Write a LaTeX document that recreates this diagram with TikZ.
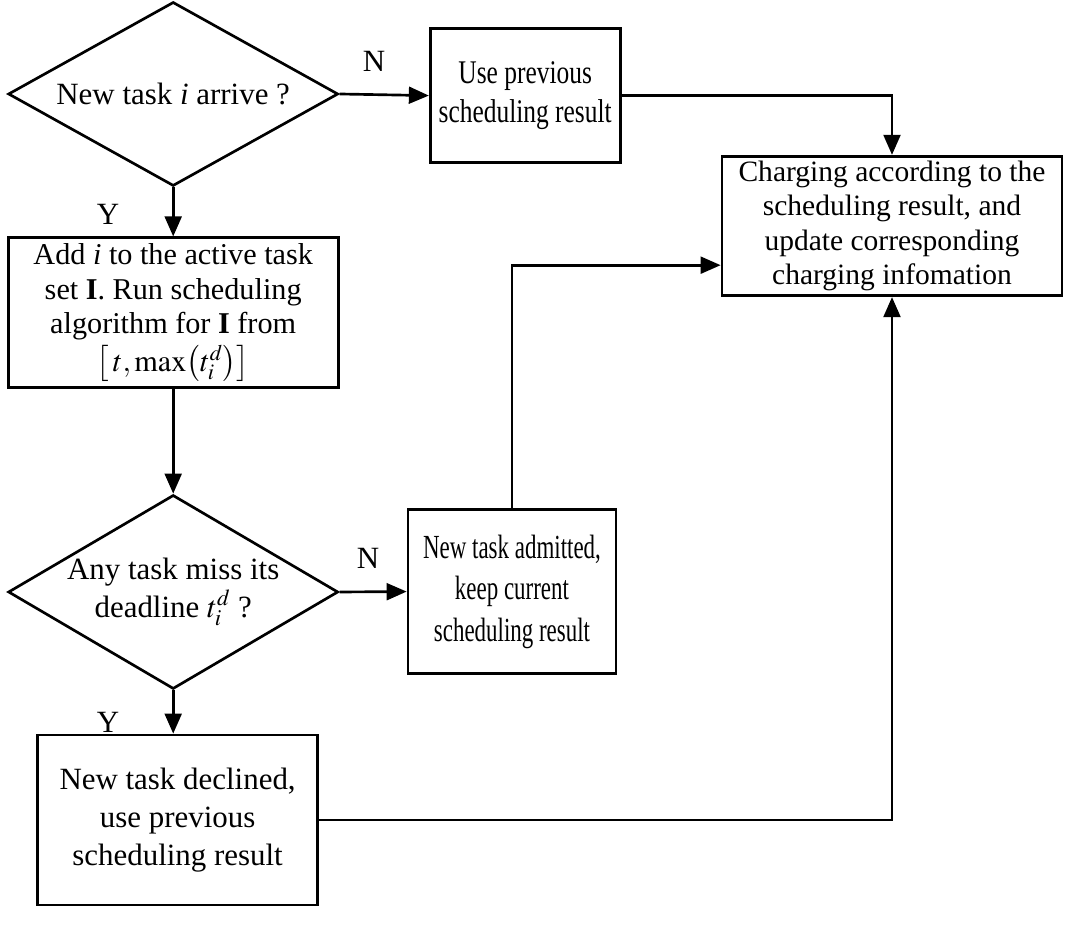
\documentclass[tikz,border=0pt]{standalone}
\usepackage{mathptmx}
\usepackage[no-math]{fontspec}
\setmainfont{Liberation Serif}
\newfontfamily\slimfont[FakeStretch=0.77]{Liberation Serif}
\newfontfamily\slimmerfont[FakeStretch=0.68]{Liberation Serif}
\usetikzlibrary{shapes.geometric,arrows.meta}

\begin{document}
\begin{tikzpicture}
	\tikzstyle{Decision} = [diamond, aspect=1.8, inner sep=0pt, minimum width=8.25cm, minimum height=4.6cm, align=center, draw=black, line width=1.9pt, font=\fontsize{22}{27}\selectfont]
	\tikzstyle{Block} = [rectangle, align=center, draw=black, line width=1.9pt, font=\fontsize{22}{27}\selectfont]
	\tikzstyle{Label} = [font=\fontsize{22}{27}\selectfont]
	\tikzstyle{arrow} = [line width=1.9pt, -{Triangle[length=0.5cm, width=0.42cm]}]
	
	\useasboundingbox (0,0) rectangle (26.775,23.25);
	
	\node (arrive) [Decision] at (4.33,20.9) {New task \textit{i} arrive ?};
	\node (previous) [Block, minimum width=4.75cm, minimum height=3.35cm, font=\fontsize{23.5}{27.5}\selectfont\slimfont] at (13.13,20.86) {Use previous\\scheduling result};
	\node (charge) [Block, minimum width=8.5cm, minimum height=3.3cm, font=\fontsize{21}{24.5}\selectfont] at (22.3,17.6) {Charging according to the\\scheduling result, and\\update corresponding\\charging infomation};
	\node (add) [Block, minimum width=8.25cm, minimum height=3.75cm, font=\fontsize{21.5}{24.5}\selectfont] at (4.33,15.43) {Add \textit{i} to the active task\\set \textbf{I}. Run scheduling\\algorithm for \textbf{I} from\\[2pt]$\bigl[\,t,\max\bigl(t_i^d\bigr)\bigr]$};
	\node (miss) [Decision, minimum height=4.85cm, inner sep=-0.1cm] at (4.33,8.45) {Any task miss its\\deadline $t_i^d$ ?};
	\node (admit) [Block, minimum width=5.2cm, minimum height=4.1cm, font=\fontsize{24}{29.5}\selectfont\slimmerfont] at (12.8,8.46) {New task admitted,\\keep current\\scheduling result};
	\node (decline) [Block, minimum width=7cm, minimum height=4.25cm] at (4.44,2.75) {New task declined,\\use previous\\scheduling result};
	
	\node (n1) [Label] at (9.35,21.72) {N};
	\node (y1) [Label] at (2.7,17.88) {Y};
	\node (n2) [Label] at (9.2,9.3) {N};
	\node (y2) [Label] at (2.7,5.2) {Y};
	
	\draw [arrow] (arrive.east) -- (previous.west);
	\draw [arrow] (arrive.south) -- (add.north);
	\draw [arrow] (previous.east) -| (charge.north);
	\draw [arrow] (add.south) -- (miss.north);
	\draw [arrow] (miss.east) -- (admit.west);
	\draw [arrow] (miss.south) -- (miss.south |- decline.north);
	\draw [arrow] (admit.north) |- ([yshift=-0.98cm]charge.west);
	\draw [arrow] (decline.east) -| (charge.south);
\end{tikzpicture}
\end{document}
